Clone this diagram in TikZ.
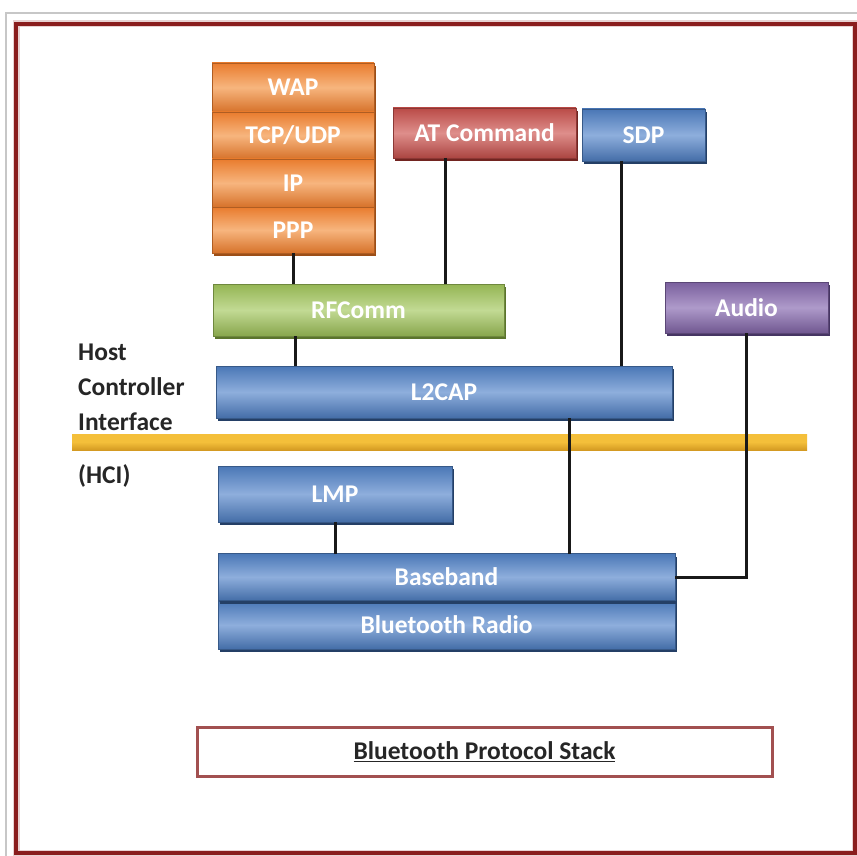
\documentclass[tikz,border=0pt]{standalone}
\usepackage{fontspec}
\setmainfont{Carlito}
\usetikzlibrary{calc,shadows}

% layer colours: base, light band, shadow
\definecolor{orgBase}{HTML}{E97C2E}
\definecolor{orgLight}{HTML}{F7B57E}
\definecolor{orgShade}{HTML}{9C4E17}
\definecolor{bluBase}{HTML}{4A77B6}
\definecolor{bluLight}{HTML}{8EAEDC}
\definecolor{bluShade}{HTML}{243F66}
\definecolor{grnBase}{HTML}{94B553}
\definecolor{grnLight}{HTML}{C2DA94}
\definecolor{grnShade}{HTML}{5B742C}
\definecolor{redBase}{HTML}{BA4B47}
\definecolor{redLight}{HTML}{DE8E8B}
\definecolor{redShade}{HTML}{722420}
\definecolor{purBase}{HTML}{7A5F9D}
\definecolor{purLight}{HTML}{AE9ACA}
\definecolor{purShade}{HTML}{463563}
\definecolor{frameRed}{HTML}{8A1E1E}
\definecolor{capRed}{HTML}{A25050}
\definecolor{hciYellow}{HTML}{F4BF3A}
\definecolor{hciDark}{HTML}{D49A22}
\definecolor{labelInk}{HTML}{262626}

\tikzset{
  layer/.style n args={3}{
    rectangle, inner sep=0pt, outer sep=0pt,
    top color=#1, bottom color=#1!92!black, middle color=#2,
    draw=#1!75!black, line width=0.6pt,
    drop shadow={shadow xshift=2pt, shadow yshift=-3pt, opacity=1, fill=#3},
    text=white, font=\fontsize{25.5}{30}\selectfont\bfseries
  },
  orangebox/.style={layer={orgBase}{orgLight}{orgShade}},
  bluebox/.style={layer={bluBase}{bluLight}{bluShade}},
  greenbox/.style={layer={grnBase}{grnLight}{grnShade}},
  redbox/.style={layer={redBase}{redLight}{redShade}},
  purplebox/.style={layer={purBase}{purLight}{purShade}},
  link/.style={line width=3pt, draw=black!90},
  sidelabel/.style={anchor=west, inner sep=0pt, text=labelInk,
    font=\fontsize{25.5}{30}\selectfont\bfseries}
}

\begin{document}
\begin{tikzpicture}[x=1pt,y=-1pt]
\useasboundingbox (0,0) rectangle (857,856);
\fill[white] (0,0) rectangle (857,856);

% outer page edge and red frame
\draw[black!22, line width=1.5pt] (6,860) -- (6,13) -- (860,13);
\draw[frameRed!20, line width=7pt] (16,24) rectangle (855,853);
\draw[frameRed, line width=3.5pt] (16,24) rectangle (855,853);

% application stack
\node[orangebox, minimum width=162, minimum height=49] (wap) at (293,87.5) {WAP};
\node[orangebox, minimum width=162, minimum height=47] (tcp) at (293,135.5) {TCP/UDP};
\node[orangebox, minimum width=162, minimum height=48] (ip)  at (293,183) {IP};
\node[orangebox, minimum width=162, minimum height=46] (ppp) at (293,230) {PPP};

\node[redbox, minimum width=183, minimum height=50] (at) at (484.5,133) {AT Command};
\node[bluebox, minimum width=123, minimum height=52] (sdp) at (643.5,135) {SDP};
\node[greenbox, minimum width=291, minimum height=52] (rfcomm) at (358.5,310) {RFComm};
\node[purplebox, minimum width=163, minimum height=51] (audio) at (746.5,307.5) {Audio};
\node[bluebox, minimum width=456, minimum height=52] (l2cap) at (444,392) {L2CAP};

% host controller interface bar
\shade[top color=hciYellow, bottom color=hciDark, middle color=hciYellow]
  (72,434) rectangle (807,450);

\node[bluebox, minimum width=234, minimum height=56] (lmp) at (335,494) {LMP};
\node[bluebox, minimum width=457, minimum height=48] (radio) at (446.5,625) {Bluetooth Radio};
\node[bluebox, minimum width=457, minimum height=47] (baseband) at (446.5,577) {Baseband};

% side labels
\node[sidelabel] (host) at (78,352) {Host};
\node[sidelabel] (ctrl) at (78,387) {Controller};
\node[sidelabel] (intf) at (78,422) {Interface};
\node[sidelabel] (hci)  at (78,476) {(HCI)};

% connectors
\draw[link] (ppp.south) -- (ppp.south |- rfcomm.north);
\draw[link] ([xshift=-39.5pt]at.south) -- ([xshift=-39.5pt]at.south |- rfcomm.north);
\draw[link] ([xshift=-22.5pt]sdp.south) -- ([xshift=-22.5pt]sdp.south |- l2cap.north);
\draw[link] ([xshift=-63.5pt]rfcomm.south) -- ([xshift=-63.5pt]rfcomm.south |- l2cap.north);
\draw[link] ([xshift=125pt]l2cap.south) -- ([xshift=125pt]l2cap.south |- baseband.north);
\draw[link] (lmp.south) -- (lmp.south |- baseband.north);
\draw[link] (audio.south) -- (audio.south |- baseband.east) -- (baseband.east);

% caption
\node[draw=capRed, line width=3pt, fill=white, minimum width=575, minimum height=49,
      inner sep=0pt, text=labelInk, font=\fontsize{25.5}{30}\selectfont\bfseries]
  (caption) at (484.5,751.5) {\underline{Bluetooth Protocol Stack}};
\end{tikzpicture}
\end{document}
